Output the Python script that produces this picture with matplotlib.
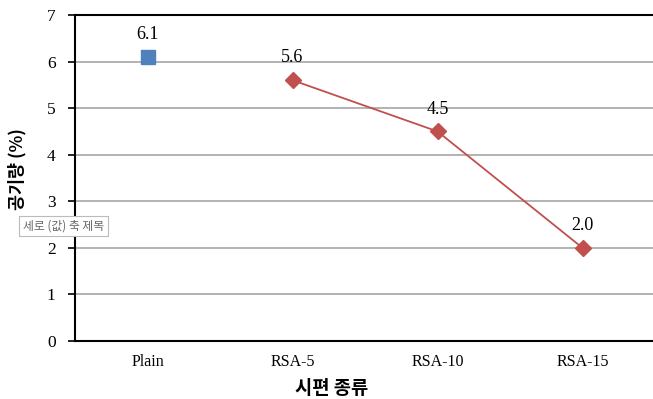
import matplotlib
matplotlib.use("Agg")
import matplotlib.pyplot as plt

# air content per specimen type
categories = ["Plain", "RSA-5", "RSA-10", "RSA-15"]
plain_values = [6.1]
rsa_values = [5.6, 4.5, 2.0]
y_ticks = [0, 1, 2, 3, 4, 5, 6, 7]

serif = ["Liberation Serif", "DejaVu Serif"]
korean = ["Noto Sans CJK KR", "DejaVu Sans"]

fig = plt.figure(figsize=(6.53, 3.99), dpi=100)
ax = fig.add_axes([75 / 653, 1 - 341 / 399, 580 / 653, 326 / 399])

x_plain = [0]
x_rsa = list(range(1, len(categories)))

ax.plot(x_plain, plain_values, marker="s", markersize=9.5, linestyle="none",
        color="#4F81BD", zorder=3)
ax.plot(x_rsa, rsa_values, marker="D", markersize=8, color="#C0504D",
        linewidth=1.3, zorder=3)

for xi, v in zip(x_plain + x_rsa, plain_values + rsa_values):
    ax.annotate(f"{v:.1f}", (xi, v), xytext=(0, 10), textcoords="offset points",
                ha="center", va="bottom", fontsize=13, family=serif)

ax.set_xlim(-0.5, len(categories) - 0.5)
ax.set_ylim(0, 7)
ax.set_yticks(y_ticks)
ax.set_xticks(range(len(categories)))
ax.set_xticklabels(categories, family=serif, fontsize=11.5)
ax.set_yticklabels([str(t) for t in y_ticks], family=serif, fontsize=12.5)
ax.tick_params(axis="x", length=0, pad=9)
ax.tick_params(axis="y", length=5, width=1.2, direction="out", pad=9)

ax.grid(axis="y", color="#A6A6A6", linewidth=1.2)
ax.set_axisbelow(True)
for side in ["left", "bottom", "top"]:
    ax.spines[side].set_linewidth(1.5)
    ax.spines[side].set_color("black")
ax.spines["right"].set_visible(False)

fig.text(17 / 653, 1 - 169 / 399, "공기량 (%)", rotation=90, ha="center",
         va="center", fontsize=12.5, fontweight="bold", family=korean)
fig.text(332 / 653, 1 - 388 / 399, "시편 종류", ha="center", va="center",
         fontsize=13.5, fontweight="bold", family=korean)

# Excel axis-title placeholder box
fig.text(23 / 653, 1 - 226 / 399, "세로 (값) 축 제목", ha="left", va="center",
         fontsize=8.5, color="#666666", family=korean,
         bbox=dict(boxstyle="square,pad=0.3", facecolor="white",
                   edgecolor="#BBBBBB", linewidth=0.8))

fig.savefig("out.png", dpi=100)
